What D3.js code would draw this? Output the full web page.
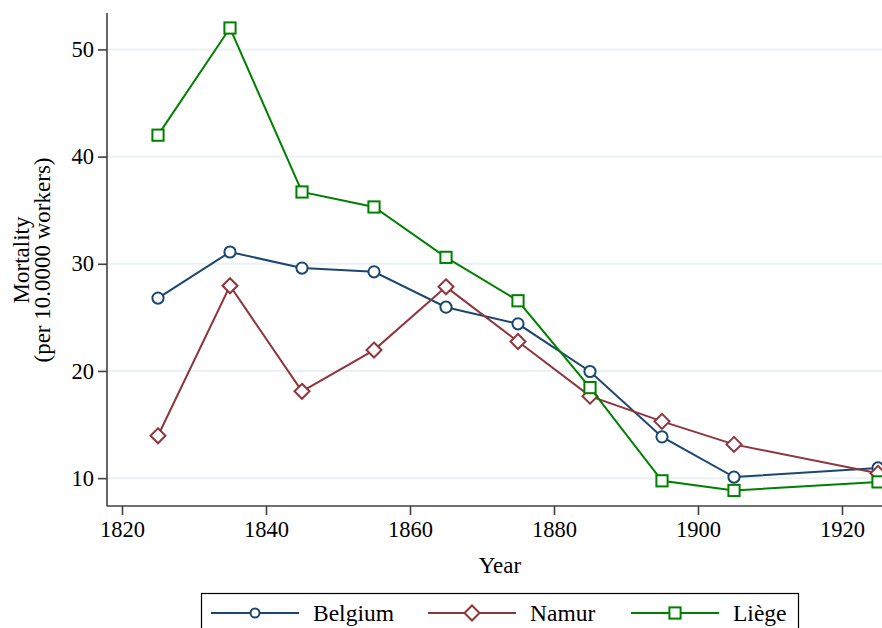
<!DOCTYPE html>
<html lang="en">
  <head>
    <meta charset="UTF-8" />
    <title>Mortality by year</title>
    <script src="https://cdnjs.cloudflare.com/ajax/libs/d3/7.8.5/d3.min.js"></script>
    <style>
      body { margin: 0; background: #fff; }
      svg text { font-family: "Liberation Serif", "Times New Roman", "DejaVu Serif", serif; fill: #000; }
    </style>
  </head>
  <body>
    <div id="chart"></div>

    <script type="text/javascript">
      var years = [1825, 1835, 1845, 1855, 1865, 1875, 1885, 1895, 1905, 1925];
      var belgium = [26.8, 31.1, 29.6, 29.25, 25.95, 24.4, 19.95, 13.85, 10.1, 10.95];
      var namur = [13.95, 27.95, 18.1, 21.95, 27.85, 22.75, 17.65, 15.3, 13.15, 10.45];
      var liege = [42.0, 52.0, 36.7, 35.3, 30.6, 26.55, 18.45, 9.75, 8.85, 9.65];
      var seriesNames = ["Belgium", "Namur", "Liège"];
      var xTicks = [1820, 1840, 1860, 1880, 1900, 1920];
      var yTicks = [10, 20, 30, 40, 50];

      var width = 882, height = 628;
      var colors = ["#1a476f", "#90353b", "#008000"];
      var symbols = ["circle", "diamond", "square"];

      var svg = d3.select("#chart").append("svg")
        .attr("width", width)
        .attr("height", height);

      var x = d3.scaleLinear().domain([1820, 1920]).range([122, 842]);
      var y = d3.scaleLinear().domain([7.4, 53.4]).range([506, 13]);
      var x0 = 107;

      /* grid */
      svg.append("g").selectAll("line")
        .data(yTicks)
        .enter()
        .append("line")
        .attr("x1", x0 + 1)
        .attr("x2", width)
        .attr("y1", function (d) { return y(d); })
        .attr("y2", function (d) { return y(d); })
        .style("stroke", "#eaf1f3")
        .style("stroke-width", 2);

      /* axes */
      var yAxis = svg.append("g")
        .attr("transform", "translate(" + x0 + ",0)")
        .call(d3.axisLeft(y).tickValues(yTicks).tickSize(9).tickPadding(4).tickSizeOuter(0));
      var xAxis = svg.append("g")
        .attr("transform", "translate(0," + y.range()[0] + ")")
        .call(d3.axisBottom(x).tickValues(xTicks).tickFormat(d3.format("d")).tickSize(9).tickPadding(6).tickSizeOuter(0));

      yAxis.select(".domain").attr("d", "M0," + y.range()[1] + "V" + y.range()[0]);
      xAxis.select(".domain").attr("d", "M" + x0 + ",0H" + (width + 10));
      [yAxis, xAxis].forEach(function (a) {
        a.attr("font-family", null);
        a.selectAll(".domain, .tick line").style("stroke", "#404040").style("stroke-width", 1.6);
        a.selectAll("text").style("font-size", "22.5px").attr("fill", "#000");
      });

      svg.append("text")
        .attr("x", 500)
        .attr("y", 573)
        .attr("text-anchor", "middle")
        .style("font-size", "23px")
        .text("Year");

      var yt = svg.append("text")
        .attr("transform", "translate(29,260) rotate(-90)")
        .attr("text-anchor", "middle")
        .style("font-size", "23px");
      yt.append("tspan").attr("x", 0).attr("dy", 0).text("Mortality");
      yt.append("tspan").attr("x", 0).attr("dy", 21).text("(per 10.0000 workers)");

      /* series */
      var allSeries = [belgium, namur, liege];
      var line = d3.line()
        .x(function (d, i) { return x(years[i]); })
        .y(function (d) { return y(d); });

      function drawMarker(g, kind, color) {
        if (kind === "circle") {
          g.append("circle").attr("r", 5.6);
        } else if (kind === "diamond") {
          g.append("path").attr("d", "M0,-7.5L7.5,0L0,7.5L-7.5,0Z");
        } else {
          g.append("rect").attr("x", -5.6).attr("y", -5.6).attr("width", 11.2).attr("height", 11.2);
        }
        g.selectAll("*")
          .style("fill", "#fff")
          .style("stroke", color)
          .style("stroke-width", 2);
      }

      allSeries.forEach(function (vals, k) {
        var g = svg.append("g");
        g.append("path")
          .datum(vals)
          .attr("d", line)
          .style("fill", "none")
          .style("stroke", colors[k])
          .style("stroke-width", 2);
        g.selectAll("g.pt")
          .data(vals)
          .enter()
          .append("g")
          .attr("class", "pt")
          .attr("transform", function (d, i) { return "translate(" + x(years[i]) + "," + y(d) + ")"; })
          .each(function () { drawMarker(d3.select(this), symbols[k], colors[k]); });
      });

      /* legend */
      var legend = svg.append("g");
      legend.append("rect")
        .attr("x", 201.5)
        .attr("y", 593.5)
        .attr("width", 597)
        .attr("height", 60)
        .style("fill", "#fff")
        .style("stroke", "#000")
        .style("stroke-width", 1.2);

      var legendX = [211, 428, 631];
      seriesNames.forEach(function (name, k) {
        var item = legend.append("g").attr("transform", "translate(" + legendX[k] + ",613)");
        item.append("line")
          .attr("x1", 0).attr("x2", 88)
          .attr("y1", 0).attr("y2", 0)
          .style("stroke", colors[k])
          .style("stroke-width", 2);
        var m = item.append("g").attr("transform", "translate(44,0)");
        drawMarker(m, symbols[k], colors[k]);
        if (symbols[k] === "circle") m.select("circle").attr("r", 4.5);
        item.append("text")
          .attr("x", 102)
          .attr("y", 8)
          .style("font-size", "23.5px")
          .text(name);
      });
    </script>
  </body>
</html>
